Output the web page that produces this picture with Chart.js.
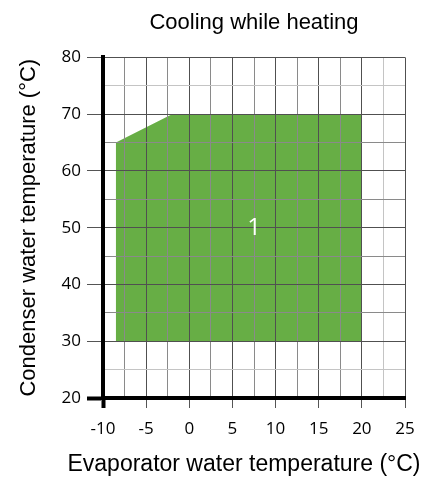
<!DOCTYPE html>
<html>
<head>
<meta charset="utf-8">
<script src="https://cdn.jsdelivr.net/npm/chart.js@4/dist/chart.umd.min.js"></script>
<style>
  html, body { margin: 0; padding: 0; background: #fff; }
  #wrap { width: 433px; height: 479px; }
</style>
</head>
<body>
<div id="wrap"><canvas id="c"></canvas></div>
<script>
// operating envelope (evaporator °C, condenser °C)
const envelopeX = [-8.5, -8.5, -2, 20, 20, -8.5];
const envelopeY = [30, 65, 70, 70, 30, 30];
const zoneLabel = '1';
const zoneLabelPos = [7.5, 50];

const xTicks = [-10, -5, 0, 5, 10, 15, 20, 25];
const yTicks = [20, 30, 40, 50, 60, 70, 80];
const xTitle = 'Evaporator water temperature (°C)';
const yTitle = 'Condenser water temperature (°C)';

const points = envelopeX.map((x, i) => ({ x: x, y: envelopeY[i] }));

const titleFont = '"Liberation Sans", Arial, sans-serif';
const tickFont = '"Open Sans", sans-serif';

// zone number + x axis title (chart.js would squeeze the title to the plot width)
const extraText = {
  id: 'extraText',
  afterDraw(chart) {
    const ctx = chart.ctx;
    const area = chart.chartArea;
    const px = chart.scales.x.getPixelForValue(zoneLabelPos[0]);
    const py = chart.scales.y.getPixelForValue(zoneLabelPos[1]);
    ctx.save();
    ctx.fillStyle = '#fff';
    ctx.font = '24px ' + tickFont;
    ctx.textAlign = 'center';
    ctx.textBaseline = 'middle';
    ctx.fillText(zoneLabel, px, py);

    ctx.fillStyle = '#000';
    ctx.font = '23px ' + titleFont;
    ctx.fillText(xTitle, (area.left + area.right) / 2 - 10, chart.height - 14);
    ctx.restore();
  }
};

// grid shade: major ticks dark, half steps mid grey, the last ones light
function gridShade(v, majors, lightOnes) {
  if (lightOnes.includes(v)) return '#c4c4c4';
  if (majors.includes(v)) return '#505050';
  return '#8a8a8a';
}

new Chart(document.getElementById('c'), {
  type: 'scatter',
  data: {
    datasets: [{
      data: points,
      showLine: true,
      fill: 'shape',
      backgroundColor: '#67ae45',
      borderWidth: 0,
      pointRadius: 0,
      tension: 0
    }]
  },
  options: {
    responsive: true,
    maintainAspectRatio: false,
    animation: false,
    layout: { padding: { left: 0, right: 28, top: 0, bottom: 0 } },
    plugins: {
      legend: { display: false },
      tooltip: { enabled: false },
      title: {
        display: true,
        fullSize: false,
        text: 'Cooling while heating',
        color: '#000',
        font: { family: titleFont, size: 22, weight: 'normal' },
        padding: { top: 10, bottom: 21 }
      }
    },
    scales: {
      x: {
        type: 'linear',
        min: -10,
        max: 25,
        afterFit: s => { s.height = 81; },
        ticks: {
          stepSize: 2.5,
          autoSkip: false,
          maxRotation: 0,
          padding: 11,
          color: '#000',
          font: { family: tickFont, size: 17 },
          callback: v => xTicks.includes(v) ? String(v) : ''
        },
        grid: {
          z: 1,
          color: ctx => ctx.tick ? gridShade(ctx.tick.value, xTicks, [22.5]) : '#555',
          tickColor: ctx => (ctx.tick && xTicks.includes(ctx.tick.value)) ? (ctx.tick.value === -10 ? '#000' : '#555') : 'rgba(0,0,0,0)',
          tickWidth: ctx => (ctx.tick && ctx.tick.value === -10) ? 4 : 1,
          tickLength: 10,
          lineWidth: 1
        },
        border: { color: '#000', width: 4, z: 2 },
        title: { display: false }
      },
      y: {
        type: 'linear',
        min: 20,
        max: 80,
        afterFit: s => { s.width = 103; },
        ticks: {
          stepSize: 5,
          autoSkip: false,
          padding: 6,
          color: '#000',
          font: { family: tickFont, size: 17 },
          callback: v => yTicks.includes(v) ? String(v) : ''
        },
        grid: {
          z: 1,
          color: ctx => ctx.tick ? gridShade(ctx.tick.value, yTicks, [25, 75]) : '#555',
          tickColor: ctx => (ctx.tick && yTicks.includes(ctx.tick.value)) ? (ctx.tick.value === 20 ? '#000' : '#555') : 'rgba(0,0,0,0)',
          tickWidth: ctx => (ctx.tick && ctx.tick.value === 20) ? 4 : 1,
          tickLength: 16,
          lineWidth: 1
        },
        border: { color: '#000', width: 4, z: 2 },
        title: {
          display: true,
          text: yTitle,
          color: '#000',
          font: { family: titleFont, size: 22 },
          padding: { top: 16, bottom: 0 }
        }
      }
    }
  },
  plugins: [extraText]
});
</script>
</body>
</html>
